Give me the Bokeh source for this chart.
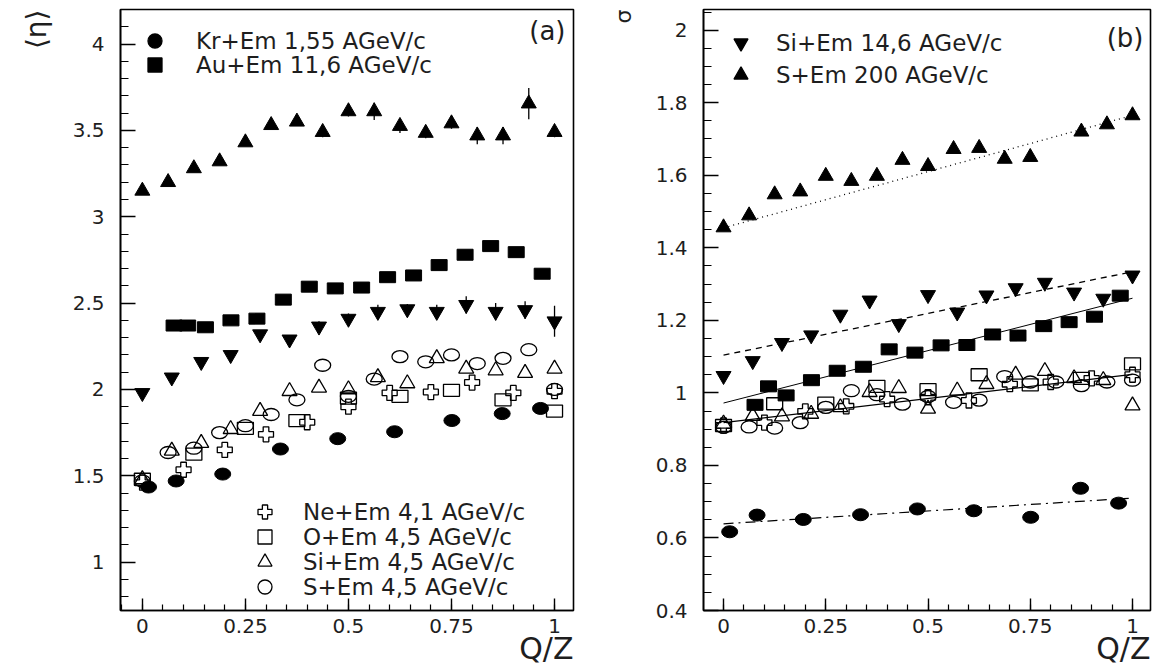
import math
from bokeh.plotting import figure
from bokeh.layouts import row
from bokeh.models import (ColumnDataSource, Legend, LegendItem, Label, Range1d,
                          SingleIntervalTicker, CustomJSTickFormatter, Title)
from bokeh.embed import file_html
from bokeh.resources import INLINE

FONT = "DejaVu Sans"
NAN = float("nan")

# ---------------- data : panel (a) ----------------
q16 = [i / 16 for i in range(17)]
q14 = [i / 14 for i in range(15)]
q10 = [i / 10 for i in range(11)]
q8 = [i / 8 for i in range(9)]
q_au = [0.077, 0.11, 0.153, 0.215, 0.278, 0.342, 0.405, 0.468, 0.532, 0.595,
        0.658, 0.72, 0.783, 0.845, 0.907, 0.97]
q_kr = [0.015, 0.082, 0.195, 0.335, 0.474, 0.612, 0.751, 0.873, 0.966]

a_s200 = [3.15, 3.20, 3.28, 3.32, 3.43, 3.53, 3.55, 3.49, 3.61, 3.61, 3.525,
          3.485, 3.54, 3.47, 3.47, 3.655, 3.49]
a_s200_err = [0.02, 0.02, 0.02, 0.02, 0.02, 0.02, 0.02, 0.03, 0.03, 0.05, 0.04,
              0.03, 0.03, 0.05, 0.05, 0.09, 0.03]
a_si146 = [1.98, 2.07, 2.16, 2.20, 2.32, 2.29, 2.365, 2.41, 2.45, 2.465, 2.45,
           2.49, 2.45, 2.46, 2.395]
a_si146_err = [0.02, 0.02, 0.02, 0.02, 0.02, 0.02, 0.03, 0.03, 0.04, 0.03, 0.04,
               0.05, 0.05, 0.05, 0.09]
a_au = [2.37, 2.37, 2.36, 2.40, 2.41, 2.52, 2.595, 2.585, 2.59, 2.65, 2.66,
        2.72, 2.78, 2.83, 2.795, 2.67]
a_kr = [1.435, 1.47, 1.51, 1.655, 1.715, 1.755, 1.82, 1.86, 1.89]
a_ne = [1.46, 1.535, 1.65, 1.74, 1.81, 1.90, 1.98, 1.985, 2.04, 1.98, 1.99]
a_o = [1.48, 1.625, 1.775, 1.82, 1.95, 1.96, 1.995, 1.94, 1.875]
a_si45 = [1.48, 1.645, 1.69, 1.77, 1.875, 1.99, 2.01, 2.0, 2.07, 2.035, 2.18,
          2.12, 2.11, 2.095, 2.12]
a_s45 = [1.47, 1.635, 1.66, 1.75, 1.79, 1.855, 1.94, 2.14, 1.96, 2.06, 2.19,
         2.16, 2.20, 2.15, 2.18, 2.23, 2.0]

# ---------------- data : panel (b) ----------------
b_s200 = [1.456, 1.489, 1.547, 1.555, 1.598, 1.584, 1.598, 1.642, 1.625, 1.672,
          1.675, 1.645, 1.65, NAN, 1.72, 1.74, 1.765]
b_si146 = [1.047, 1.088, 1.138, 1.159, 1.216, 1.255, 1.19, 1.27, 1.222, 1.269,
           1.289, 1.304, 1.277, 1.26, 1.324]
b_au = [0.967, 1.018, 0.993, 1.035, 1.061, 1.072, 1.12, 1.111, 1.131, 1.132,
        1.161, 1.158, 1.184, 1.195, 1.21, 1.268]
b_kr = [0.617, 0.663, 0.651, 0.664, 0.68, 0.675, 0.657, 0.737, 0.696]
b_ne = [0.91, 0.918, 0.949, 0.963, 0.983, 0.988, 0.979, 1.024, 1.03, 1.04, 1.05]
b_o = [0.91, 0.97, 0.972, 1.018, 1.009, 1.05, 1.022, 1.04, 1.08]
b_si45 = [0.915, 0.936, 0.935, 0.942, 0.96, 1.002, 1.013, 0.956, 1.006, 1.024,
          1.05, 1.06, 1.04, 1.035, 0.965]
b_s45 = [0.905, 0.906, 0.903, 0.918, 0.96, 1.006, 0.995, 0.969, 0.99, 0.974,
         0.98, 1.045, 1.03, 1.03, 1.02, 1.03, 1.035]

# linear fits drawn in panel (b): values at Q/Z = 0 and 1
fit_q = [0.0, 1.0]
fit_s200 = [1.455, 1.765]
fit_si146 = [1.104, 1.334]
fit_au = [0.972, 1.261]
fit_light = [0.918, 1.051]
fit_kr = [0.639, 0.710]

labels = {
    "kr": "Kr+Em 1,55 AGeV/c",
    "au": "Au+Em 11,6 AGeV/c",
    "ne": "Ne+Em 4,1 AGeV/c",
    "o": "O+Em 4,5 AGeV/c",
    "si45": "Si+Em 4,5 AGeV/c",
    "s45": "S+Em 4,5 AGeV/c",
    "si146": "Si+Em 14,6 AGeV/c",
    "s200": "S+Em 200 AGeV/c",
}

INK = "#1e1e1e"


def make_fig(width, left, right, top, bottom, xr, yr, ytick, yminor):
    p = figure(width=width, height=668, output_backend="svg", toolbar_location=None,
               x_range=Range1d(*xr), y_range=Range1d(*yr),
               min_border_left=left, min_border_right=right,
               min_border_top=top, min_border_bottom=bottom)
    p.background_fill_color = "white"
    p.border_fill_color = "white"
    p.outline_line_color = "black"
    p.outline_line_width = 1.6
    p.xgrid.visible = False
    p.ygrid.visible = False
    fmt = CustomJSTickFormatter(code="return (Math.round(tick*1000)/1000).toString();")
    p.xaxis.ticker = SingleIntervalTicker(interval=0.25, num_minor_ticks=5)
    p.yaxis.ticker = SingleIntervalTicker(interval=ytick, num_minor_ticks=yminor)
    for ax in (p.xaxis, p.yaxis):
        ax.formatter = fmt
        ax.axis_line_width = 1.6
        ax.major_tick_line_width = 1.4
        ax.minor_tick_line_width = 1.2
        ax.major_tick_out = 0
        ax.minor_tick_out = 0
        ax.major_label_text_font = FONT
        ax.major_label_text_font_size = "20px"
        ax.major_label_text_color = INK
    p.xaxis.major_tick_in = 12
    p.xaxis.minor_tick_in = 6
    p.yaxis.major_tick_in = 15
    p.yaxis.minor_tick_in = 8
    p.xaxis.major_label_standoff = 8
    p.yaxis.major_label_standoff = 16
    return p


def errbars(p, q, v, e):
    src = ColumnDataSource(dict(q=q, lo=[a - b for a, b in zip(v, e)],
                                hi=[a + b for a, b in zip(v, e)]))
    p.segment(x0="q", y0="lo", x1="q", y1="hi", source=src, line_color="black",
              line_width=1.3)


def draw_sets(p, d):
    errbars(p, q16, d["s200"], d.get("s200_err", [0] * 17))
    errbars(p, q14, d["si146"], d.get("si146_err", [0] * 15))
    p.scatter(q16, d["s200"], marker="triangle", size=15, fill_color="black",
              line_color="black")
    p.scatter(q14, d["si146"], marker="inverted_triangle", size=15,
              fill_color="black", line_color="black")
    p.rect(q_au, d["au"], width=16, height=11, width_units="screen",
           height_units="screen", fill_color="black", line_color="black")
    p.ellipse(q_kr, d["kr"], width=16, height=12, width_units="screen",
              height_units="screen", fill_color="black", line_color="black")
    p.scatter(q10, d["ne"], marker="plus", size=15, fill_alpha=0.0,
              line_color="black", line_width=1.3)
    p.rect(q8, d["o"], width=16, height=12, width_units="screen",
           height_units="screen", fill_alpha=0.0, line_color="black",
           line_width=1.3)
    p.scatter(q14, d["si45"], marker="triangle", size=15, fill_alpha=0.0,
              line_color="black", line_width=1.3)
    p.ellipse(q16, d["s45"], width=16, height=12, width_units="screen",
              height_units="screen", fill_alpha=0.0, line_color="black",
              line_width=1.3)


def add_key(p, key, marker, filled, vx, vy, standoff):
    r = p.scatter([NAN], [NAN], marker=marker, size=14,
                  fill_color="black" if filled else None,
                  line_color="black", line_width=1.3)
    lg = Legend(items=[LegendItem(label=labels[key], renderers=[r])],
                location=(vx, vy), glyph_width=35, glyph_height=35, padding=0,
                margin=0, spacing=0, label_standoff=standoff,
                label_text_font=FONT, label_text_font_size="23px",
                label_text_color=INK, background_fill_alpha=0.0,
                border_line_alpha=0.0)
    p.add_layout(lg)


def add_text(p, text, x, y, size, align="left"):
    p.add_layout(Label(x=x, y=y, x_units="screen", y_units="screen", text=text,
                       text_font=FONT, text_font_size=size, text_align=align,
                       text_baseline="middle", text_color=INK))


def side_title(p, text, place, size, align, standoff):
    p.add_layout(Title(text=text, align=align, text_font=FONT,
                       text_font_size=size, text_font_style="normal",
                       text_color=INK, standoff=standoff), place)


# ---------------- panel (a) ----------------
pa = make_fig(590, 119, 17, 9, 56, (-0.053, 1.046), (0.72, 4.2), 0.5, 5)
draw_sets(pa, dict(s200=a_s200, s200_err=a_s200_err, si146=a_si146,
                   si146_err=a_si146_err, au=a_au, kr=a_kr, ne=a_ne, o=a_o,
                   si45=a_si45, s45=a_s45))
# keys (bottom-left corner of each key box, frame pixels)
add_key(pa, "kr", "circle", True, 17, 552, 24)
add_key(pa, "au", "square", True, 17, 528, 24)
add_key(pa, "ne", "plus", False, 127, 81, 21)
add_key(pa, "o", "square", False, 127, 56, 21)
add_key(pa, "si45", "triangle", False, 127, 31, 21)
add_key(pa, "s45", "circle", False, 127, 6, 21)
add_text(pa, "(a)", 445, 580, "26px", align="right")
side_title(pa, "Q/Z", "below", "30px", "right", -14)
side_title(pa, "\u27e8\u03b7\u27e9", "left", "28px", "right", 34)

# ---------------- panel (b) ----------------
pb = make_fig(565, 113, 5, 4, 58, (-0.049, 1.044), (0.4, 2.057), 0.2, 4)
pb.line(fit_q, fit_s200, line_color="black", line_width=1.3, line_dash="1 4")
pb.line(fit_q, fit_si146, line_color="black", line_width=1.3, line_dash="6 5")
pb.line(fit_q, fit_au, line_color="black", line_width=1.0)
pb.line(fit_q, fit_light, line_color="black", line_width=1.2)
pb.line(fit_q, fit_kr, line_color="black", line_width=1.2, line_dash="10 5 2 5")
draw_sets(pb, dict(s200=b_s200, si146=b_si146, au=b_au, kr=b_kr, ne=b_ne,
                   o=b_o, si45=b_si45, s45=b_s45))
add_key(pb, "si146", "inverted_triangle", True, 20, 550, 18)
add_key(pb, "s200", "triangle", True, 20, 518, 18)
add_text(pb, "(b)", 440, 573, "26px", align="right")
side_title(pb, "Q/Z", "below", "30px", "right", -14)
side_title(pb, "\u03c3", "left", "22px", "right", 33)

layout = row(pa, pb)
open("out.html", "w").write(file_html(layout, INLINE))
